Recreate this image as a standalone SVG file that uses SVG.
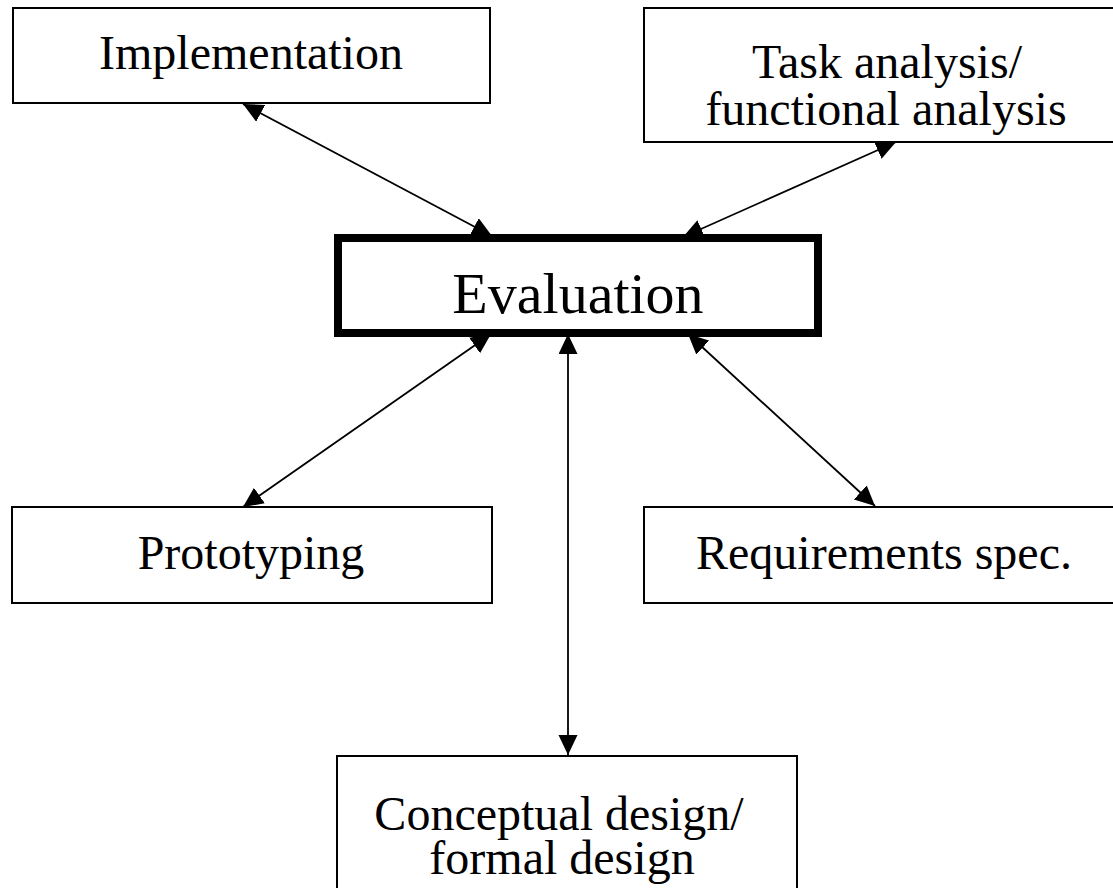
<svg xmlns="http://www.w3.org/2000/svg" width="1113" height="888" viewBox="0 0 1113 888">
<style>
.box{fill:#fff;stroke:#000;stroke-width:2}
.main{fill:#fff;stroke:#000;stroke-width:8}
.t{font-family:"Liberation Serif","Times New Roman",serif;font-size:48px;fill:#000;text-anchor:middle}
.tm{font-family:"Liberation Serif","Times New Roman",serif;font-size:58px;fill:#000;text-anchor:middle}
.c{stroke:#000;stroke-width:1.8;fill:none;marker-start:url(#ah);marker-end:url(#ah)}
</style>
<defs>
<marker id="ah" markerUnits="userSpaceOnUse" markerWidth="22" markerHeight="20" refX="20" refY="9.5" orient="auto-start-reverse">
<path d="M0,0 L20,9.5 L0,19 Z" fill="#000"/>
</marker>
</defs>
<rect width="1113" height="888" fill="#fff"/>
<g id="implementation">
<rect class="box" x="13" y="8" width="477" height="95"/>
<text class="t" x="251" y="69">Implementation</text>
</g>
<g id="task-analysis">
<rect class="box" x="644" y="8" width="490" height="134"/>
<text class="t" x="887" y="78">Task analysis/</text>
<text class="t" x="886" y="125">functional analysis</text>
</g>
<g id="prototyping">
<rect class="box" x="12" y="507" width="480" height="96"/>
<text class="t" x="251" y="569">Prototyping</text>
</g>
<g id="requirements">
<rect class="box" x="644" y="507" width="490" height="96"/>
<text class="t" x="884" y="569">Requirements spec.</text>
</g>
<g id="conceptual-design">
<rect class="box" x="337" y="756" width="460" height="150"/>
<text class="t" x="559" y="830">Conceptual design/</text>
<text class="t" x="562" y="874">formal design</text>
</g>
<g id="connectors">
<line class="c" x1="243" y1="104" x2="492" y2="236"/>
<line class="c" x1="896" y1="142" x2="683" y2="237"/>
<line class="c" x1="243" y1="507" x2="491" y2="334"/>
<line class="c" x1="568" y1="334" x2="568" y2="755"/>
<line class="c" x1="688" y1="334" x2="875" y2="506"/>
</g>
<g id="evaluation">
<rect class="main" x="338" y="238" width="480" height="95"/>
<text class="tm" x="578" y="313">Evaluation</text>
</g>
</svg>
